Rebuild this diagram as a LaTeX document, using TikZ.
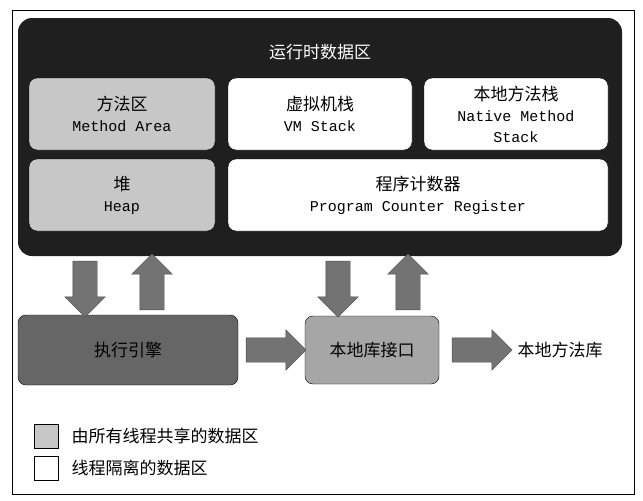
\documentclass[tikz,border=0pt]{standalone}
\usepackage{fontspec}
\setmainfont{Noto Sans CJK SC}
\setmonofont{Liberation Mono}
\usetikzlibrary{shapes.arrows}
\tikzset{
  area/.style={draw=black, rounded corners=8pt, align=center, font=\fontsize{17}{21}\selectfont, inner sep=0pt},
  shared/.style={area, fill=black!22},
  private/.style={area, fill=white},
  bigarrow/.style={single arrow, fill=black!55, draw=black!70, minimum height=50pt,
    inner xsep=0pt, inner ysep=12pt, single arrow head extend=8pt, single arrow head indent=0pt},
  key/.style={draw=black, minimum size=24pt, inner sep=0pt}
}
\newcommand{\en}[1]{{\ttfamily\fontsize{15}{18}\selectfont #1}}
\begin{document}
\begin{tikzpicture}[x=1pt, y=-1pt]
  \useasboundingbox (0,0) rectangle (643,501);
  \draw[line width=1pt] (12,10) rectangle (634,494);
  % runtime data area
  \fill[black!88, rounded corners=14pt] (18,18) rectangle (622,256);
  \node[text=white, font=\fontsize{17}{20}\selectfont] (title) at (320,52) {运行时数据区};
  \node[shared, minimum width=186pt, minimum height=72pt] (method) at (122,114) {方法区\\\en{Method Area}};
  \node[private, minimum width=184pt, minimum height=72pt] (vmstack) at (320,114) {虚拟机栈\\\en{VM Stack}};
  \node[private, minimum width=184pt, minimum height=72pt] (native) at (516,114) {本地方法栈\\\en{Native Method}\\\en{Stack}};
  \node[shared, minimum width=186pt, minimum height=72pt] (heap) at (122,195) {堆\\\en{Heap}};
  \node[private, minimum width=380pt, minimum height=72pt] (pc) at (418,195) {程序计数器\\\en{Program Counter Register}};
  % engine and native interface
  \node[area, fill=black!60, minimum width=220pt, minimum height=70pt] (engine) at (128,350) {执行引擎};
  \node[area, fill=black!35, minimum width=134pt, minimum height=68pt] (jni) at (372,350) {本地库接口};
  \node[font=\fontsize{17}{20}\selectfont, anchor=west] (lib) at (514,350) {本地方法库};
  \node[bigarrow, rotate=-90, minimum height=56pt] (down1) at (85,283) {};
  \node[bigarrow, rotate=90, minimum height=56pt] (up1) at (152,288) {};
  \node[bigarrow, rotate=-90, minimum height=56pt] (down2) at (338,283) {};
  \node[bigarrow, rotate=90, minimum height=56pt] (up2) at (408,288) {};
  \node[bigarrow, minimum height=60pt] (toJni) at (270,350) {};
  \node[bigarrow, minimum height=60pt] (toLib) at (476,350) {};
  % legend
  \node[key, fill=black!22] (k1) at (46,436) {};
  \node[anchor=west, font=\fontsize{17}{20}\selectfont] (t1) at (68,436) {由所有线程共享的数据区};
  \node[key, fill=white] (k2) at (46,468) {};
  \node[anchor=west, font=\fontsize{17}{20}\selectfont] (t2) at (68,468) {线程隔离的数据区};
\end{tikzpicture}
\end{document}
